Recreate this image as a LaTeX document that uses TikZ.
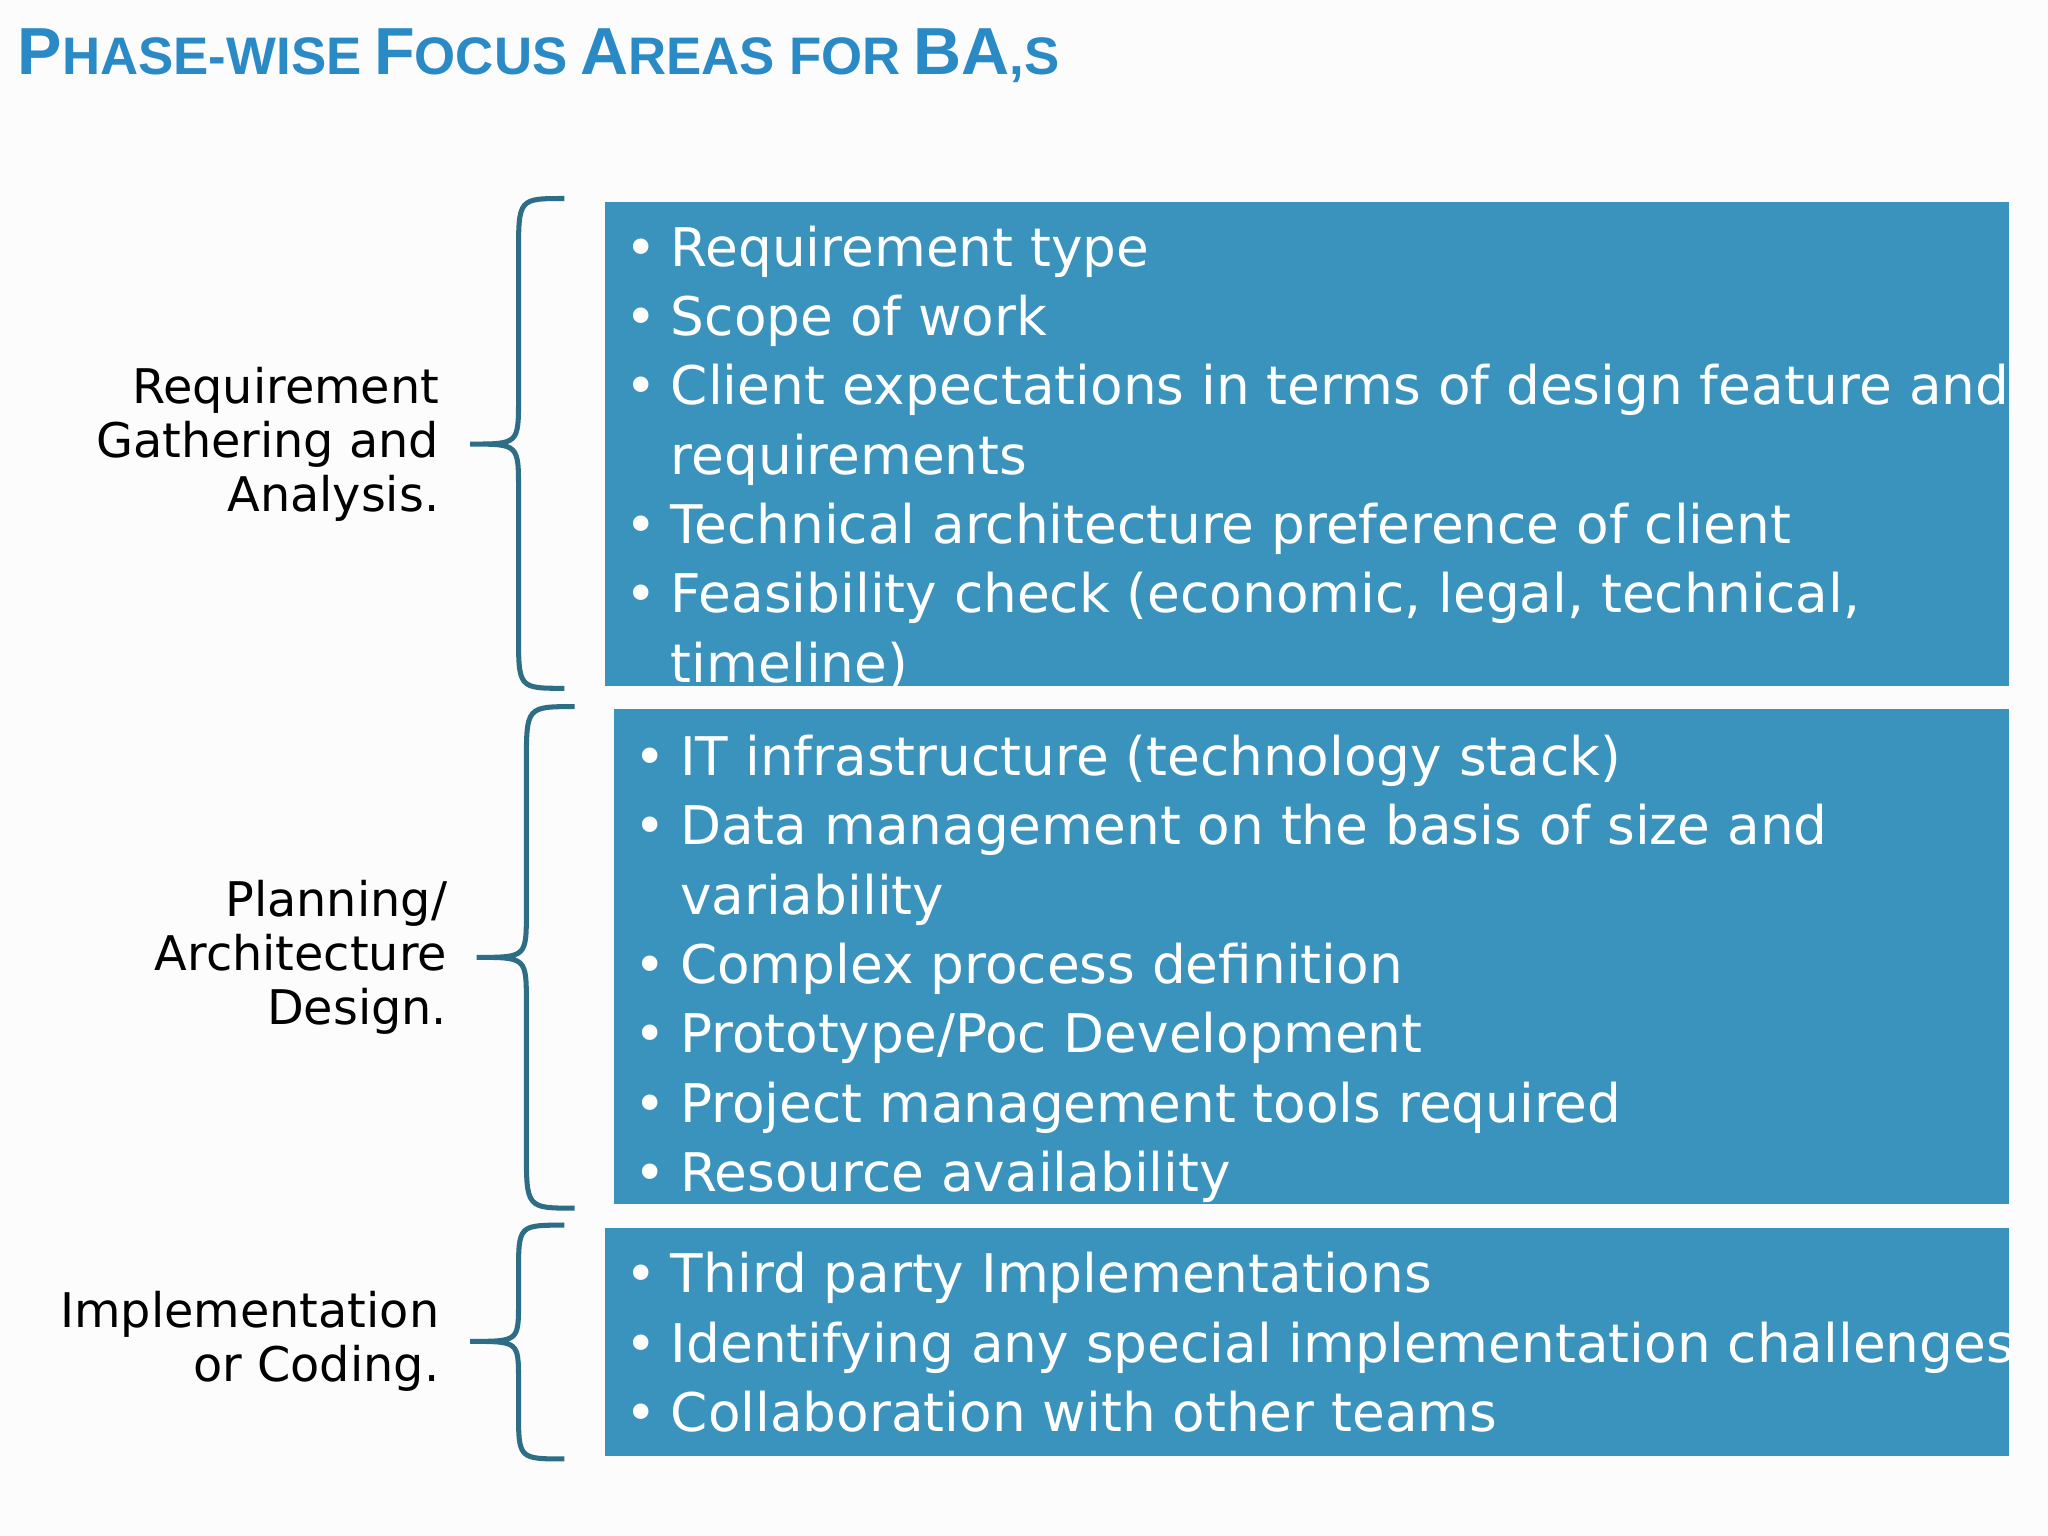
\documentclass[tikz,border=0pt]{standalone}
\usepackage{fontspec}
\setmainfont{DejaVu Sans}
\newfontfamily\titlefont{Liberation Sans}
\definecolor{boxblue}{HTML}{3A93BC}
\definecolor{titleblue}{HTML}{2A8AC6}
\definecolor{bracecol}{HTML}{2D6E86}
\newcommand{\BG}[1]{{\fontsize{14.5}{16}\selectfont #1}}
\newcommand{\SM}[1]{{\fontsize{11.5}{16}\selectfont #1}}
\begin{document}
\begin{tikzpicture}[x=1cm,y=-1cm,
  bluebox/.style={fill=boxblue,draw=none},
  items/.style={anchor=north west,inner sep=0,text=white,font=\fontsize{11.6}{15.1}\selectfont},
  phase/.style={anchor=east,align=right,inner sep=0,font=\fontsize{10.4}{11.8}\selectfont},
  brace/.style={draw=bracecol,line width=1.1pt}]
\useasboundingbox (0,0) rectangle (15.68,11.76);
\fill[white!98!gray] (0,0) rectangle (15.68,11.76);
\node[anchor=base west,inner sep=0,text=titleblue,font=\titlefont\bfseries] (title) at (0.13,0.57)
 {\BG{P}\SM{HASE-WISE} \BG{F}\SM{OCUS} \BG{A}\SM{REAS FOR} \BG{BA}\SM{,S}};
% boxes
\fill[bluebox] (4.63,1.55) rectangle (15.38,5.25);
\fill[bluebox] (4.70,5.43) rectangle (15.38,9.22);
\fill[bluebox] (4.63,9.40) rectangle (15.38,11.15);
\node[items] (l1) at (4.78,1.66) {\begin{tabular}{@{}p{0.35cm}@{}l@{}}
• & Requirement type\\
• & Scope of work\\
• & Client expectations in terms of design feature and\\
  & requirements\\
• & Technical architecture preference of client\\
• & Feasibility check (economic, legal, technical,\\
  & timeline)
\end{tabular}};
\node[items] (l2) at (4.85,5.56) {\begin{tabular}{@{}p{0.35cm}@{}l@{}}
• & IT infrastructure (technology stack)\\
• & Data management on the basis of size and\\
  & variability\\
• & Complex process definition\\
• & Prototype/Poc Development\\
• & Project management tools required\\
• & Resource availability
\end{tabular}};
\node[items] (l3) at (4.78,9.52) {\begin{tabular}{@{}p{0.35cm}@{}l@{}}
• & Third party Implementations\\
• & Identifying any special implementation challenges\\
• & Collaboration with other teams
\end{tabular}};
% labels
\node[phase] (p1) at (3.37,3.40) {Requirement\\Gathering and\\Analysis.};
\node[phase] (p2) at (3.43,7.33) {Planning/\\Architecture\\Design.};
\node[phase] (p3) at (3.37,10.27) {Implementation\\or Coding.};
% braces
\draw[brace] (4.32,1.52) .. controls (3.97,1.52) .. (3.97,1.95) -- (3.97,3.05)
  .. controls (3.97,3.40) .. (3.60,3.40) .. controls (3.97,3.40) .. (3.97,3.75)
  -- (3.97,4.85) .. controls (3.97,5.27) .. (4.32,5.27);
\draw[brace] (4.40,5.41) .. controls (4.03,5.41) .. (4.03,5.85) -- (4.03,6.98)
  .. controls (4.03,7.33) .. (3.65,7.33) .. controls (4.03,7.33) .. (4.03,7.68)
  -- (4.03,8.80) .. controls (4.03,9.25) .. (4.40,9.25);
\draw[brace] (4.32,9.38) .. controls (3.97,9.38) .. (3.97,9.75) -- (3.97,9.97)
  .. controls (3.97,10.27) .. (3.60,10.27) .. controls (3.97,10.27) .. (3.97,10.57)
  -- (3.97,10.80) .. controls (3.97,11.17) .. (4.32,11.17);
\end{tikzpicture}
\end{document}
